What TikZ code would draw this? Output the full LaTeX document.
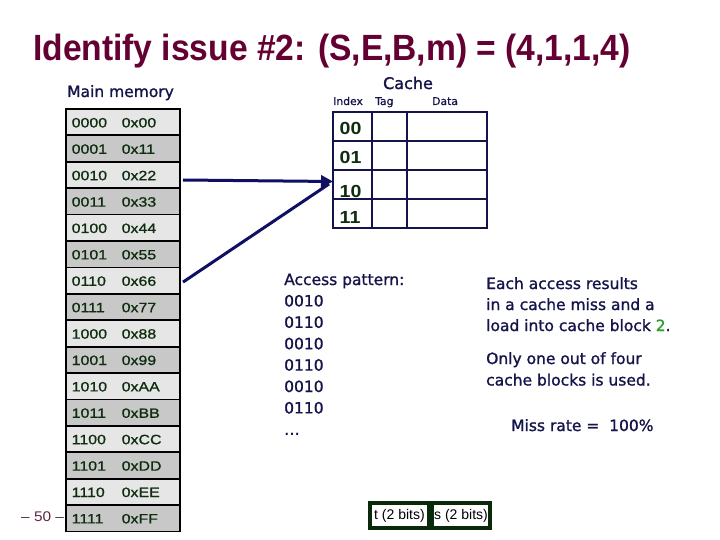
\documentclass[tikz,border=0pt]{standalone}
\usepackage{fontspec}
\usepackage{graphicx}
\setmainfont{DejaVu Sans}
\newfontfamily\ari{Liberation Sans}
\font\bodyfnt="DejaVu Sans:embolden=1.2" at 15.5pt
\font\cachefnt="DejaVu Sans:embolden=1.5" at 16pt
\font\smallfnt="DejaVu Sans:embolden=0.6" at 10.8pt
\font\memfnt="Liberation Sans:embolden=1.0;extend=1.18" at 13.5pt
\font\idxfnt="Liberation Sans/B:extend=1.12" at 17.5pt
\font\pgfnt="Liberation Sans:extend=1.1" at 14pt
\usetikzlibrary{arrows.meta}
\definecolor{titlec}{RGB}{100,0,50}
\definecolor{navy}{RGB}{20,20,75}
\definecolor{memgreen}{RGB}{15,45,15}
\definecolor{memlight}{RGB}{230,230,230}
\definecolor{memdark}{RGB}{200,200,200}
\definecolor{arrowc}{RGB}{15,15,100}
\definecolor{greentwo}{RGB}{40,160,40}
\definecolor{boxgreen}{RGB}{10,40,10}
\definecolor{pagenum}{RGB}{90,40,70}
\begin{document}
\begin{tikzpicture}[x=1pt,y=-1pt,
  memrow/.style={draw=black,line width=1.8pt,minimum width=114pt,minimum height=26.4pt,inner sep=0pt,outer sep=0pt},
  memtxt/.style={anchor=base west,inner sep=0pt,text=memgreen,font=\memfnt},
  idxtxt/.style={anchor=base west,inner sep=0pt,text=memgreen,font=\idxfnt},
  body/.style={anchor=base west,inner sep=0pt,text=navy,font=\bodyfnt},
  small/.style={anchor=base west,inner sep=0pt,text=navy,font=\smallfnt},
  cacherow/.style={draw=navy,line width=1.2pt,minimum width=154pt,minimum height=29pt,inner sep=0pt,outer sep=0pt},
  arrowline/.style={draw=arrowc,line width=3pt},
  bitbox/.style={draw=boxgreen,line width=3.2pt,inner sep=0pt,outer sep=0pt,font=\ari\fontsize{14}{16}\selectfont,text=black}
]
\useasboundingbox (0,0) rectangle (720,540);
\fill[white] (0,0) rectangle (720,540);

% title
\node[anchor=base west,inner sep=0pt,text=titlec,font=\ari\bfseries\fontsize{36.5}{40}\selectfont] (title) at (33,61)
  {\scalebox{0.92}[1]{Identify issue \#2: (S,E,B,m) = (4,1,1,4)}};

% main memory
\node[body] (mmlabel) at (67,97) {Main memory};
\foreach \b/\h/\c [count=\i from 0] in {0000/00/memlight,0001/11/memdark,0010/22/memlight,0011/33/memdark,
  0100/44/memlight,0101/55/memdark,0110/66/memlight,0111/77/memdark,1000/88/memlight,1001/99/memdark,
  1010/AA/memlight,1011/BB/memdark,1100/CC/memlight,1101/DD/memdark,1110/EE/memlight,1111/FF/memdark}{
  \node[memrow,fill=\c] (m\i) at (123,109+26.4*\i+13.2) {};
  \node[memtxt] (mb\i) at (71.5,109+26.4*\i+18.4) {\b};
  \node[memtxt] (mh\i) at (121.5,109+26.4*\i+18.4) {0x\h};
}

% cache
\node[anchor=base,inner sep=0pt,text=navy,font=\cachefnt] (cachelabel) at (408,89) {Cache};
\node[small] (idxl) at (333,105) {Index};
\node[small] (tagl) at (375,105) {Tag};
\node[small] (datal) at (432,105) {Data};
\foreach \i in {0,1,2,3}{
  \node[cacherow] (c\i) at (410,112+29*\i+14.5) {};
}
\draw[navy,line width=1.2pt] (372,112) -- (372,228) (407,112) -- (407,228);
\node[idxtxt] (i0) at (339.5,135) {00};
\node[idxtxt] (i1) at (339.5,163.5) {01};
\node[idxtxt] (i2) at (339.5,198) {10};
\node[idxtxt] (i3) at (339.5,223) {11};

% arrows
\coordinate (tip) at (333,181.5);
\draw[arrowline,-{Triangle[length=12pt,width=12pt]}] ([shift={(3,5)}]m2.east) -- (tip);
\draw[arrowline] ([shift={(3,1.5)}]m6.east) -- ([shift={(-4,2.5)}]tip);

% access pattern
\node[body] (ap) at (284,285) {Access pattern:};
\foreach \t [count=\k] in {0010,0110,0010,0110,0010,0110}{
  \node[body] (ap\k) at (284,285+21.4*\k) {\t};
}
\node[body] (apdots) at (284,285+21.4*7) {…};

% explanation
\node[body] (e1) at (486,289) {Each access results};
\node[body] (e2) at (486,310) {in a cache miss and a};
\node[body] (e3) at (486,331) {load into cache block \textcolor{greentwo}{2}.};
\node[body] (e4) at (486,364) {Only one out of four};
\node[body] (e5) at (486,385.5) {cache blocks is used.};
\node[body] (miss) at (511,431) {Miss rate =\ \ 100\%};

% page number
\node[anchor=base west,inner sep=0pt,text=pagenum,font=\pgfnt] (pg) at (21,521) {–\ 50\ –};

% bit boxes
\node[bitbox,minimum width=59pt,minimum height=25pt] (tb) at (399.5,515.5) {t (2 bits)};
\node[bitbox,minimum width=58pt,minimum height=25pt] (sb) at (461,515.5) {s (2 bits)};
\end{tikzpicture}
\end{document}
